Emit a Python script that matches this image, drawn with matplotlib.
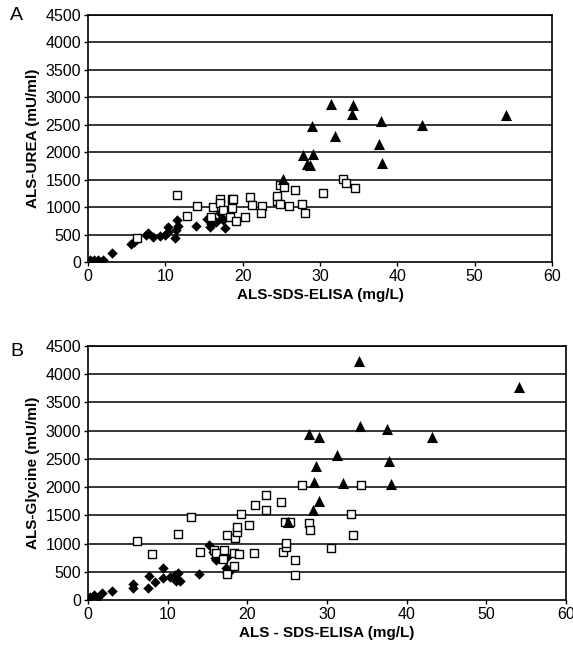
import matplotlib
matplotlib.use("Agg")
import matplotlib.pyplot as plt

# ---- Panel A data (ALS-UREA vs ALS-SDS-ELISA) ----
a_dia_x = [0.3, 0.8, 1.3, 1.9, 3.1, 5.6, 5.9, 7.5, 7.8, 8.4, 9.3, 10.0, 10.3, 10.4,
           11.3, 11.4, 11.5, 11.6, 14.0, 15.4, 15.8, 15.9, 16.6, 17.1, 17.3, 17.7, 17.5]
a_dia_y = [40, 40, 40, 40, 170, 328, 370, 492, 523, 450, 474, 492, 643, 552,
           432, 583, 765, 656, 656, 778, 632, 692, 734, 887, 796, 614, 765]
a_sq_x = [6.3, 11.5, 12.8, 14.1, 16.2, 17.1, 17.1, 18.6, 18.8, 17.4, 18.6, 15.9, 18.4,
          19.2, 20.3, 21.0, 21.2, 22.5, 22.4, 24.4, 24.5, 24.8, 25.4, 24.8, 26.0, 26.8,
          27.7, 28.0, 30.4, 33.0, 33.3, 34.5]
a_sq_y = [432, 1220, 843, 1020, 996, 1147, 1069, 1147, 1147, 947, 978, 814, 814,
          752, 814, 1190, 1038, 1020, 887, 1111, 1202, 1402, 1372, 1057, 1026, 1311,
          1057, 898, 1262, 1506, 1433, 1353]
a_tri_x = [31.4, 34.2, 34.1, 29.0, 37.9, 43.2, 54.1, 32.0, 37.6, 27.8, 29.1, 28.3,
           28.7, 38.0, 25.2]
a_tri_y = [2880, 2860, 2690, 2477, 2574, 2495, 2678, 2295, 2150, 1950, 1967, 1785,
           1767, 1798, 1512]

# ---- Panel B data (ALS-Glycine vs ALS-SDS-ELISA) ----
b_dia_x = [0.3, 0.8, 1.3, 1.8, 3.0, 5.6, 5.6, 7.6, 7.5, 8.4, 9.4, 9.4, 10.3, 10.9,
           11.3, 11.1, 11.5, 13.9, 15.2, 15.7, 15.9, 16.1, 17.4, 17.3, 17.4, 17.7]
b_dia_y = [50, 80, 60, 120, 160, 283, 218, 430, 218, 324, 572, 384, 413, 443,
           473, 342, 342, 461, 975, 856, 739, 709, 767, 562, 473, 501]
b_sq_x = [6.2, 8.0, 11.3, 12.9, 14.1, 15.8, 16.1, 17.1, 17.0, 17.5, 18.4, 18.7, 18.7,
          18.3, 19.0, 18.3, 17.4, 19.2, 20.2, 20.8, 21.0, 22.3, 22.4, 24.2, 24.5,
          24.8, 24.9, 24.7, 25.3, 26.0, 26.0, 26.8, 27.7, 27.9, 30.5, 33.0, 33.2, 34.3]
b_sq_y = [1045, 810, 1164, 1476, 856, 886, 827, 886, 721, 1152, 1093, 1210, 1299,
          827, 815, 608, 461, 1524, 1329, 827, 1683, 1595, 1861, 1731, 856,
          944, 1015, 1387, 1387, 709, 443, 2038, 1370, 1240, 927, 1524, 1152, 2038]
b_tri_x = [34.0, 54.1, 34.1, 37.5, 27.8, 29.0, 43.2, 31.3, 37.8, 28.6, 28.4, 32.0,
           38.0, 29.0, 28.2, 25.1]
b_tri_y = [4241, 3769, 3089, 3030, 2941, 2883, 2894, 2569, 2468, 2374, 2085, 2068,
           2050, 1760, 1595, 1377]

y_ticks = [0, 500, 1000, 1500, 2000, 2500, 3000, 3500, 4000, 4500]
x_ticks = [0, 10, 20, 30, 40, 50, 60]

plt.rcParams['font.family'] = ['Liberation Sans', 'DejaVu Sans']

fig = plt.figure(figsize=(5.73, 6.53), dpi=100)
axA = fig.add_axes([0.1536, 0.5988, 0.8098, 0.3782])
axB = fig.add_axes([0.1536, 0.0812, 0.8342, 0.3889])


def style(ax, xlabel, ylabel):
    ax.set_xlim(0, 60)
    ax.set_ylim(0, 4500)
    ax.set_xticks(x_ticks)
    ax.set_yticks(y_ticks)
    for yv in y_ticks[1:]:
        ax.axhline(yv, color='black', lw=1.1, zorder=1)
    for s in ax.spines.values():
        s.set_linewidth(1.2)
        s.set_color('black')
    ax.tick_params(direction='out', length=3, width=1, labelsize=11.5, pad=2)
    ax.set_xlabel(xlabel, fontsize=11, fontweight='bold', labelpad=3)
    ax.set_ylabel(ylabel, fontsize=11, fontweight='bold', labelpad=4)


def plot(ax, dx, dy, sx, sy, tx, ty):
    ax.scatter(dx, dy, marker='D', s=28, color='black', zorder=3, linewidths=0)
    ax.scatter(sx, sy, marker='s', s=36, facecolors='white', edgecolors='black',
               linewidths=1.0, zorder=3)
    ax.scatter(tx, ty, marker='^', s=64, color='black', zorder=4, linewidths=0)


plot(axA, a_dia_x, a_dia_y, a_sq_x, a_sq_y, a_tri_x, a_tri_y)
style(axA, 'ALS-SDS-ELISA (mg/L)', 'ALS-UREA (mU/ml)')
plot(axB, b_dia_x, b_dia_y, b_sq_x, b_sq_y, b_tri_x, b_tri_y)
style(axB, 'ALS - SDS-ELISA (mg/L)', 'ALS-Glycine (mU/ml)')

fig.text(10 / 573, 1 - 15 / 653, 'A', fontsize=14, va='center', ha='left')
fig.text(10 / 573, 1 - 352 / 653, 'B', fontsize=14, va='center', ha='left')

fig.savefig('out.png', dpi=100)
